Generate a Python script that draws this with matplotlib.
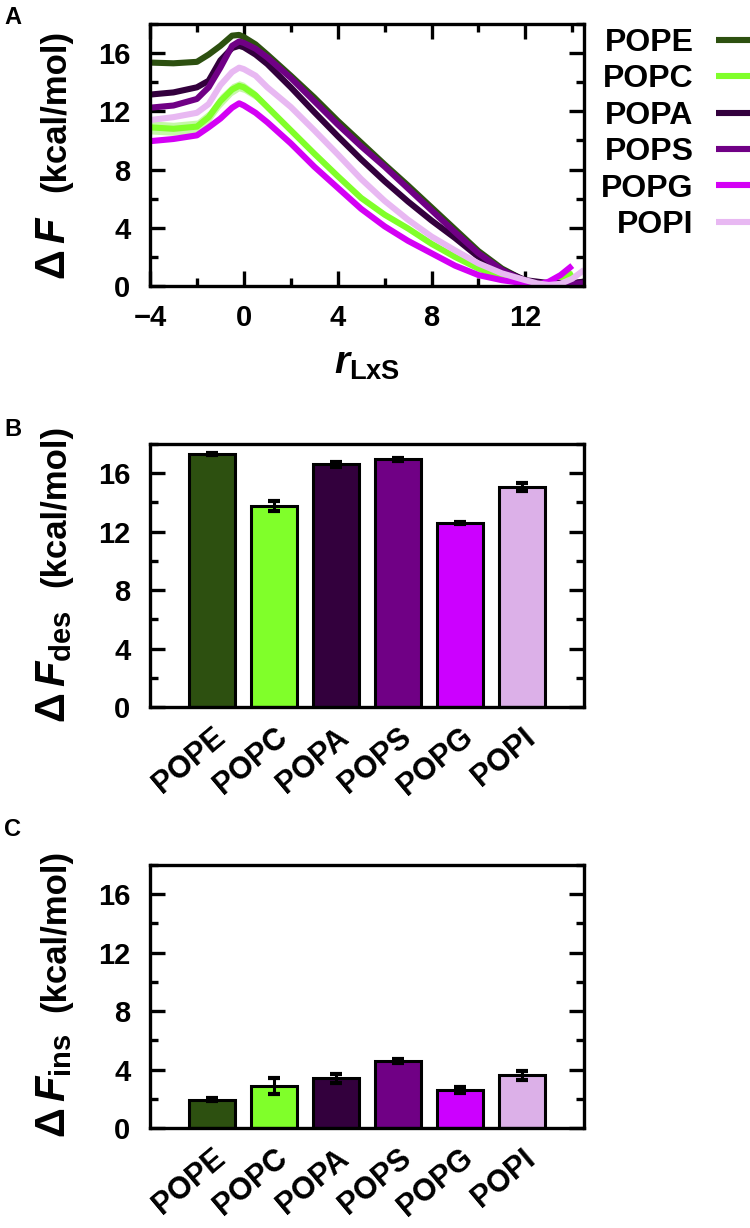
import numpy as np
import matplotlib
matplotlib.use("Agg")
import matplotlib.pyplot as plt
from matplotlib.ticker import MultipleLocator

plt.rcParams["font.family"] = ["Liberation Sans", "DejaVu Sans"]
plt.rcParams["font.weight"] = "bold"
plt.rcParams["mathtext.fontset"] = "custom"
plt.rcParams["mathtext.rm"] = "Liberation Sans:bold"
plt.rcParams["mathtext.it"] = "Liberation Sans:italic:bold"
plt.rcParams["mathtext.bf"] = "Liberation Sans:bold"

# ---------------------------------------------------------------------------
# data
# ---------------------------------------------------------------------------
lipids = ["POPE", "POPC", "POPA", "POPS", "POPG", "POPI"]
colors = ["#2d5010", "#80ff2a", "#33003d", "#700085", "#cc00ff", "#dcb0e8"]
line_colors = ["#2d5010", "#80ff2a", "#33003d", "#700085", "#d400f5", "#e8b8f2"]

# panel A: free-energy profiles along r_LxS
r_lxs = [-4, -3, -2, -1.5, -1, -0.5, -0.2, 0, 0.5, 1, 2, 3, 4, 5, 6, 7, 8,
         9, 10, 11, 12, 12.5, 13, 13.5, 14, 14.5]
pmf_pope = [15.35, 15.3, 15.4, 15.9, 16.5, 17.2, 17.25, 17.1, 16.6, 15.9,
            14.45, 12.95, 11.35, 9.85, 8.35, 6.9, 5.4, 3.9, 2.4, 1.2, 0.35,
            0.15, 0.1, 0.1, 0.15, 0.3]
pmf_popc = [10.9, 10.8, 10.95, 11.6, 12.7, 13.5, 13.75, 13.65, 13.1, 12.3,
            10.7, 9.1, 7.55, 6.05, 4.9, 3.95, 2.9, 2.0, 1.2, 0.64, 0.3,
            0.2, 0.07, 0.35, 0.95, np.nan]
pmf_popc_err = [0.45, 0.45, 0.45, 0.45, 0.45, 0.4, 0.35, 0.35, 0.3, 0.2,
                0.1, 0.1, 0.1, 0.1, 0.1, 0.1, 0.1, 0.1, 0.1, 0.1, 0.1,
                0.1, 0.1, 0.1, 0.1, np.nan]
pmf_popa = [13.15, 13.3, 13.65, 14.1, 15.5, 16.35, 16.5, 16.4, 15.9, 15.25,
            13.65, 11.95, 10.3, 8.7, 7.2, 5.8, 4.5, 3.3, 2.0, 1.1, 0.4,
            0.3, 0.2, 0.2, 0.2, 0.3]
pmf_pops = [12.25, 12.4, 12.85, 13.65, 15.0, 16.5, 16.8, 16.7, 16.3, 15.7,
            14.3, 12.7, 11.1, 9.6, 8.2, 6.7, 5.2, 3.7, 2.25, 1.1, 0.3,
            0.15, 0.15, 0.15, 0.15, 0.2]
pmf_popg = [9.95, 10.1, 10.35, 10.9, 11.5, 12.25, 12.55, 12.4, 11.9, 11.25,
            9.8, 8.2, 6.75, 5.3, 4.1, 3.1, 2.25, 1.4, 0.75, 0.4, 0.18,
            0.07, 0.3, 0.75, 1.4, np.nan]
pmf_popi = [11.4, 11.6, 11.9, 12.5, 13.8, 14.7, 15.0, 14.9, 14.45, 13.65,
            12.3, 10.7, 9.05, 7.35, 5.85, 4.55, 3.4, 2.45, 1.55, 0.87, 0.4,
            0.18, 0.07, 0.15, 0.5, 1.1]
profiles = [pmf_pope, pmf_popc, pmf_popa, pmf_pops, pmf_popg, pmf_popi]

# panel B: desorption free energy
dF_des = [17.3, 13.75, 16.6, 16.95, 12.6, 15.05]
dF_des_err = [0.05, 0.35, 0.15, 0.1, 0.05, 0.25]

# panel C: insertion free energy
dF_ins = [1.95, 2.85, 3.4, 4.6, 2.6, 3.6]
dF_ins_err = [0.1, 0.55, 0.3, 0.15, 0.2, 0.3]

W, H = 750, 1228
LW_SPINE = 2.4


def _frame(ax, xticks=True):
    for s in ax.spines.values():
        s.set_linewidth(LW_SPINE)
    ax.tick_params(which="both", direction="in", width=LW_SPINE,
                   left=True, right=True, top=xticks, bottom=xticks,
                   labelsize=21)
    ax.tick_params(which="major", length=11)
    ax.tick_params(which="minor", length=6)
    ax.tick_params(axis="y", which="both", pad=14)
    ax.set_ylim(0, 18)
    ax.yaxis.set_major_locator(MultipleLocator(4))
    ax.yaxis.set_minor_locator(MultipleLocator(2))


def _ylabel(ax, sub, y0, y1):
    # Delta F part is printed larger than the unit part
    main = r"$\Delta\,F$" if sub is None else r"$\Delta\,F_{\mathrm{%s}}$" % sub
    ax.text(-0.196, y0, main, transform=ax.transAxes, rotation=90,
            rotation_mode="anchor", ha="left", va="baseline", fontsize=30)
    ax.text(-0.196, y1, "(kcal/mol)", transform=ax.transAxes, rotation=90,
            rotation_mode="anchor", ha="right", va="baseline", fontsize=25,
            fontweight="bold")


def _ax_rect(left, top, right, bottom):
    return [left / W, 1 - bottom / H, (right - left) / W, (bottom - top) / H]


fig = plt.figure(figsize=(W / 100, H / 100), dpi=100)

# ---------------------------------------------------------------------------
# A
# ---------------------------------------------------------------------------
axA = fig.add_axes(_ax_rect(150, 24, 584, 286))
x = np.array(r_lxs)
lo = np.array(pmf_popc) - np.array(pmf_popc_err)
hi = np.array(pmf_popc) + np.array(pmf_popc_err)
axA.fill_between(x, lo, hi, color="#c6f7a8", lw=0, zorder=1)
handles = []
for name, y, c in zip(lipids, profiles, line_colors):
    h, = axA.plot(x, y, color=c, lw=4.4, solid_capstyle="butt",
                  solid_joinstyle="round", label=name, zorder=2)
    handles.append(h)
axA.set_xlim(-4, 14.5)
axA.xaxis.set_major_locator(MultipleLocator(4))
axA.xaxis.set_minor_locator(MultipleLocator(2))
_frame(axA)
axA.tick_params(axis="x", which="both", pad=13)
axA.set_xticks([-4, 0, 4, 8, 12])
axA.set_xticklabels(["\u22124", "0", "4", "8", "12"])
axA.set_xlabel(r"$r_{\mathrm{LxS}}$", fontsize=28, labelpad=10)
_ylabel(axA, None, 0.023, 0.977)

fig.legend(handles=handles, loc="upper left",
           bbox_to_anchor=(601 / W, 1 - 28 / H), frameon=False,
           markerfirst=False, borderpad=0, borderaxespad=0,
           handlelength=1.9, handletextpad=0.7, labelspacing=0.2,
           prop={"size": 23, "weight": "bold"})

# ---------------------------------------------------------------------------
# B and C
# ---------------------------------------------------------------------------
pos = np.arange(len(lipids))
for rect, vals, errs, sub, lab_y, lett_y in [
        ((150, 444, 584, 707), dF_des, dF_des_err, "des", (-0.06, 1.072), 430),
        ((150, 865, 584, 1128), dF_ins, dF_ins_err, "ins", (-0.038, 1.057), 830)]:
    ax = fig.add_axes(_ax_rect(*rect))
    ax.bar(pos, vals, width=0.75, color=colors, edgecolor="black",
           linewidth=2.2, zorder=2)
    ax.errorbar(pos, vals, yerr=errs, fmt="none", ecolor="black",
                elinewidth=2.2, capsize=4.5, capthick=3, zorder=3)
    ax.set_xlim(-1, 6)
    _frame(ax, xticks=False)
    ax.set_xticks(pos)
    ax.set_xticklabels(lipids, rotation=40, ha="right",
                       rotation_mode="anchor", fontsize=22)
    ax.tick_params(axis="x", pad=11)
    _ylabel(ax, sub, *lab_y)
    fig.text(4 / W, 1 - lett_y / H, "B" if sub == "des" else "C",
             fontsize=17, fontweight="bold", va="center", ha="left")

fig.text(4 / W, 1 - 17 / H, "A", fontsize=17, fontweight="bold",
         va="center", ha="left")

fig.savefig("out.png", dpi=100)
